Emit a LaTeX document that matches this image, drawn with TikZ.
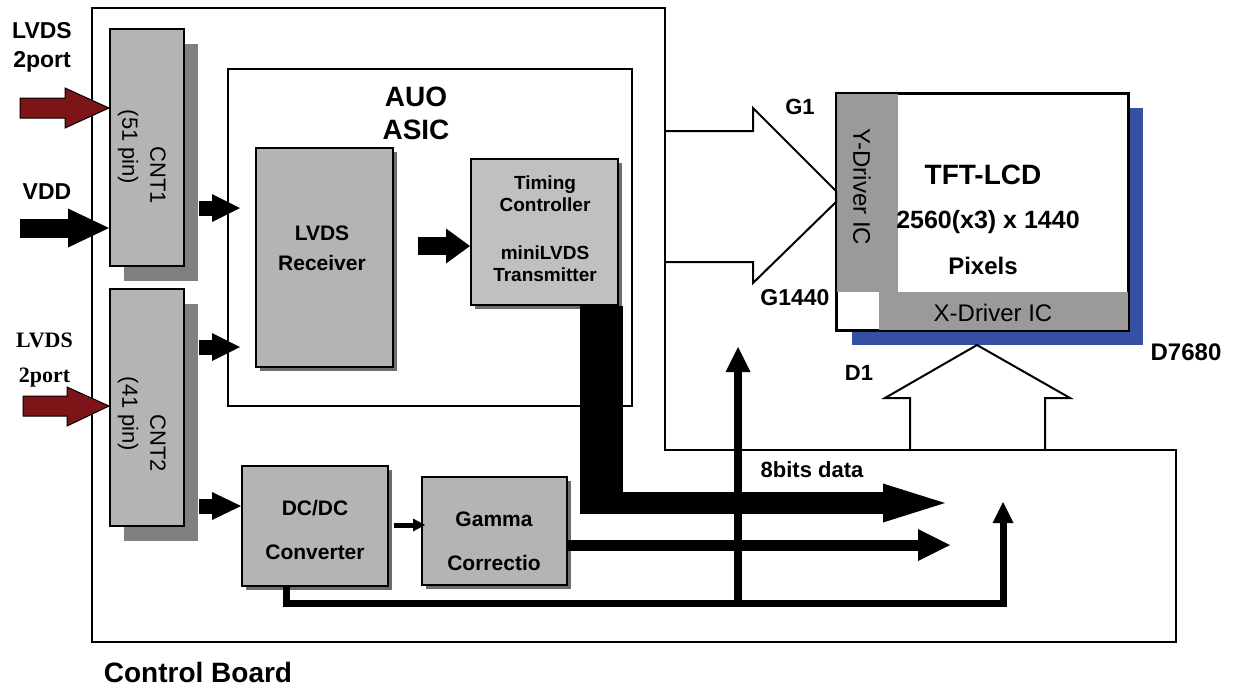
\documentclass[tikz,border=0pt]{standalone}
\usepackage{fontspec}
\setmainfont{Liberation Sans}
\newfontfamily\timesfont{Liberation Serif}
\usetikzlibrary{arrows.meta}

\definecolor{boxgray}{RGB}{180,180,180}
\definecolor{tcongray}{RGB}{192,192,192}
\definecolor{cntshade}{RGB}{128,128,128}
\definecolor{blkshade}{RGB}{110,110,110}
\definecolor{drvgray}{RGB}{154,154,154}
\definecolor{panelblue}{RGB}{53,80,162}
\definecolor{lvdsred}{RGB}{125,21,24}

\tikzset{every picture/.style={line width=1.5pt}}
\tikzset{
	blk/.style={draw=black, line width=2pt, fill=boxgray, inner sep=0pt},
	txt/.style={inner sep=0pt, align=center, font=\bfseries\fontsize{#1}{#1}\selectfont},
	plain/.style={inner sep=0pt, align=center, font=\fontsize{#1}{#1}\selectfont},
	redarrow/.style={draw=black, line width=1pt, fill=lvdsred},
	hollow/.style={draw=black, line width=2pt, line join=miter}
}

\begin{document}
\begin{tikzpicture}[x=1pt,y=1pt,yscale=-1,xscale=1]
	\useasboundingbox (0,0) rectangle (1234,689);
	
	% control board outline
	\draw (92,8) -- (665,8) -- (665,450) -- (1176,450) -- (1176,642) -- (92,642) -- cycle;
	
	% shadows
	\fill[cntshade] (124,44) rectangle (198,281);
	\fill[cntshade] (124,304) rectangle (198,541);
	\fill[blkshade] (260,152) rectangle (397,371);
	\fill[blkshade] (475,163) rectangle (622,309);
	\fill[blkshade] (246,470) rectangle (392,590);
	\fill[blkshade] (426,481) rectangle (571,589);
	\fill[panelblue] (852,108) rectangle (1143,345);
	
	% blocks
	\node[blk, minimum width=74, minimum height=237] (cnt1) at (147,147.5) {};
	\node[blk, minimum width=74, minimum height=237] (cnt2) at (147,407.5) {};
	\node[draw=black, line width=2pt, minimum width=404, minimum height=337, inner sep=0pt] (asic) at (430,237.5) {};
	\node[blk, minimum width=137, minimum height=219] (rx) at (324.5,257.5) {};
	\node[blk, fill=tcongray, minimum width=147, minimum height=146] (tcon) at (544.5,232) {};
	\node[blk, minimum width=146, minimum height=120] (dcdc) at (315,526) {};
	\node[blk, minimum width=145, minimum height=108] (gamma) at (494.5,531) {};
	
	% TFT panel
	\node[draw=black, line width=2pt, fill=white, minimum width=291, minimum height=236, inner sep=0pt] (panel) at (982.5,212) {};
	\fill[drvgray] (panel.north west) rectangle (898,292);
	\fill[drvgray] (879,292) rectangle (panel.south east);
	\draw[line width=2pt] (panel.north west) rectangle (panel.south east);
	
	% gate and data block arrows
	\draw[hollow] (665,131) -- (753,131) -- (753,108) -- (panel.west |- 0,191) -- (panel.west |- 0,202) -- (753,283) -- (753,262) -- (665,262);
	\draw[hollow] (910,450) -- (910,398) -- (885,398) -- (977,345) -- (1070,398) -- (1045,398) -- (1045,450);
	
	% inputs
	\draw[redarrow] (20,98) -- (65,98) -- (65,88) -- (cnt1.west |- 0,108) -- (65,128) -- (65,118) -- (20,118) -- cycle;
	\draw[redarrow] (23,396) -- (67,396) -- (67,387) -- (cnt2.west |- 0,406) -- (67,426) -- (67,416) -- (23,416) -- cycle;
	\coordinate (vdd) at (20,228);
	\draw[line width=19pt, -{Triangle[length=41pt, width=39pt, line width=0pt]}] (vdd) -- (cnt1.west |- 0,228);
	
	% internal arrows
	\draw[line width=15pt, shorten <=14pt, shorten >=-13pt, -{Triangle[length=28pt, width=28pt, line width=0pt]}] (cnt1.east |- 0,208) -- (asic.west |- 0,208);
	\draw[line width=15pt, shorten <=14pt, shorten >=-13pt, -{Triangle[length=28pt, width=28pt, line width=0pt]}] (cnt2.east |- 0,347) -- (asic.west |- 0,347);
	\draw[line width=15pt, shorten <=14pt, -{Triangle[length=29pt, width=28pt, line width=0pt]}] (cnt2.east |- 0,506) -- (dcdc.west |- 0,506);
	\draw[line width=18pt, shorten <=24pt, -{Triangle[length=24pt, width=35pt, line width=0pt]}] (rx.east |- 0,246) -- (tcon.west |- 0,246);
	\draw[line width=5pt, shorten <=5pt, shorten >=-4pt, -{Triangle[length=12pt, width=13pt, line width=0pt]}] (dcdc.east |- 0,525) -- (gamma.west |- 0,525);
	
	% data bus
	\coordinate (busend) at (945,503);
	\coordinate (gamend) at (950,545);
	\draw[line width=43pt] (tcon.south -| 601.5,0) -- (601.5,514);
	\draw[line width=22pt, -{Triangle[length=62pt, width=39pt, line width=0pt]}] (580,503) -- (busend);
	\draw[line width=11pt, -{Triangle[length=32pt, width=32pt, line width=0pt]}] (gamma.east |- 0,545) -- (gamend);
	
	% power line
	\coordinate (pwr1) at (738,347);
	\coordinate (pwr2) at (1003,502);
	\draw[line width=7pt, line join=miter, -{Triangle[length=21pt, width=21pt, line width=0pt]}] (dcdc.south -| 286,0) -- (286,603) -- (1003,603) -- (pwr2);
	\draw[line width=8pt, -{Triangle[length=25pt, width=25pt, line width=0pt]}] (738,606) -- (pwr1);
	
	% Text Node
	\node[txt=23, font=\bfseries\fontsize{23}{29}\selectfont] (t-lvds1) at (42,47.5) {LVDS\\2port};
	\node[txt=23] (t-vdd) at (47,192) {VDD};
	\node[txt=22, font=\timesfont\bfseries\fontsize{22}{35}\selectfont] (t-lvds2) at (44.5,360.5) {LVDS\\2port};
	\node[plain=22, rotate=-90] (t-cnt1) at (158,175) {CNT1};
	\node[plain=22, rotate=-90] (t-pin1) at (128,147) {(51 pin)};
	\node[plain=22, rotate=-90] (t-cnt2) at (158,443) {CNT2};
	\node[plain=22, rotate=-90] (t-pin2) at (128,414) {(41 pin)};
	\node[txt=28, font=\bfseries\fontsize{28}{33}\selectfont] (t-asic) at (416,113.5) {AUO\\ASIC};
	\node[txt=21, font=\bfseries\fontsize{21}{30}\selectfont] (t-rx) at (322,248) {LVDS\\Receiver};
	\node[txt=19, font=\bfseries\fontsize{19}{22}\selectfont] (t-tcon) at (545,229) {Timing\\Controller\\[26pt]miniLVDS\\Transmitter};
	\node[txt=21, font=\bfseries\fontsize{21}{44}\selectfont] (t-dcdc) at (315,530) {DC/DC\\Converter};
	\node[txt=21, font=\bfseries\fontsize{21}{44}\selectfont] (t-gamma) at (494,541) {Gamma\\Correctio};
	\node[txt=22] (t-g1) at (800,107) {G1};
	\node[txt=23] (t-g1440) at (795,298) {G1440};
	\node[txt=28] (t-tft) at (983,175) {TFT-LCD};
	\node[txt=25] (t-res) at (988,222) {2560(x3) x 1440};
	\node[txt=24] (t-pix) at (983,266) {Pixels};
	\node[plain=24, rotate=-90] (t-ydrv) at (862,187) {Y-Driver IC};
	\node[plain=24] (t-xdrv) at (993,313) {X-Driver IC};
	\node[txt=22] (t-d1) at (859,373) {D1};
	\node[txt=24] (t-d7680) at (1186,352) {D7680};
	\node[txt=22] (t-8bit) at (812,470) {8bits data};
	\node[txt=28] (t-board) at (198,672) {Control Board};
	
\end{tikzpicture}
\end{document}
